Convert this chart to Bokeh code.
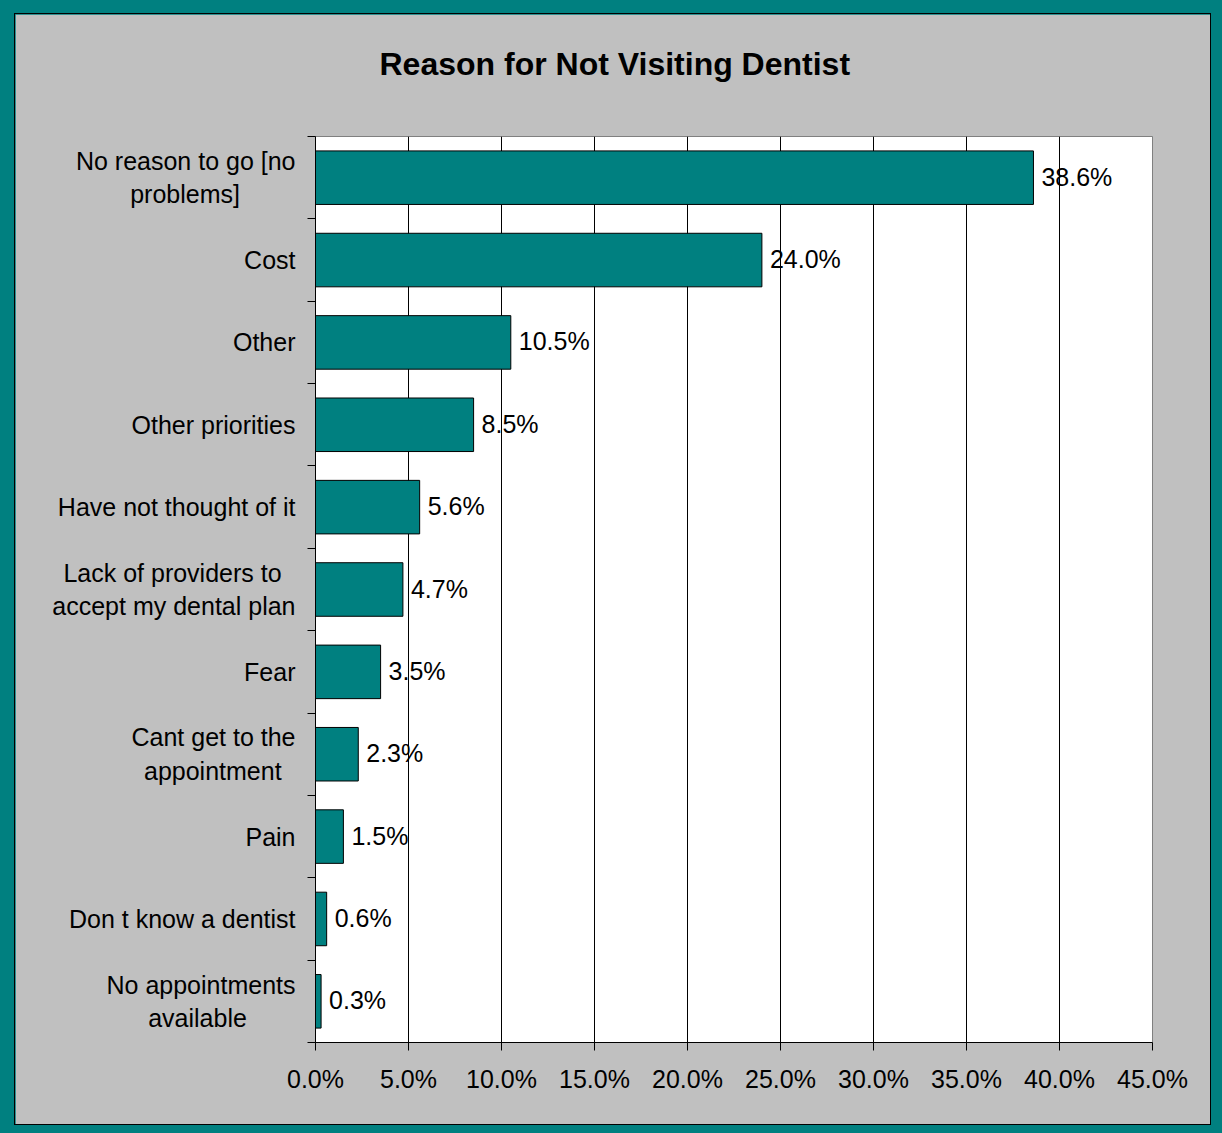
from bokeh.plotting import figure
from bokeh.models import (Range1d, LinearAxis, FixedTicker, Title,
                          PrintfTickFormatter, ColumnDataSource, LabelSet)
from bokeh.core.properties import value
from bokeh.layouts import column
from bokeh.embed import file_html
from bokeh.resources import INLINE

categories = [
    "No reason to go [no\nproblems]",
    "Cost",
    "Other",
    "Other priorities",
    "Have not thought of it",
    "Lack of providers to\naccept my dental plan",
    "Fear",
    "Cant get to the\nappointment",
    "Pain",
    "Don t know a dentist",
    "No appointments\navailable",
]
values = [38.6, 24.0, 10.5, 8.5, 5.6, 4.7, 3.5, 2.3, 1.5, 0.6, 0.3]
value_labels = ["38.6%", "24.0%", "10.5%", "8.5%", "5.6%", "4.7%", "3.5%", "2.3%", "1.5%", "0.6%", "0.3%"]
x_ticks = [0, 5, 10, 15, 20, 25, 30, 35, 40, 45]
title_text = "Reason for Not Visiting Dentist"

FONT = "Liberation Sans"
TEAL = "#008080"
NBSP = "\u00a0"

# styling only: trailing no-break spaces per label line, so that the lines of a
# wrapped (right-aligned) label appear centred within their block, as in Excel
line_pad = {0: [0, 8], 5: [2, 0], 7: [0, 2], 10: [0, 7]}


def display_label(i, c):
    pads = line_pad.get(i)
    if not pads:
        return c
    return "\n".join(line + NBSP * k for line, k in zip(c.split("\n"), pads))


n = len(categories)
slots = [n - i - 0.5 for i in range(n)]  # category slot centres, first at top
src = ColumnDataSource(dict(cat=categories, pos=slots, val=values, lab=value_labels))

p = figure(width=1195, height=1110,
           y_range=Range1d(0, n),
           x_range=Range1d(0, 45),
           y_axis_location=None, title_location=None,
           output_backend="svg", toolbar_location=None,
           min_border_left=300, min_border_right=58,
           min_border_top=122, min_border_bottom=82,
           border_fill_color="#c0c0c0", background_fill_color="white",
           outline_line_color="#808080")
p.styles = {"box-shadow": "0 0 0 1px #000000"}

# title: a blank spacer next to the frame, then the real title above it
spacer = Title(text=NBSP, text_font_size="1px", standoff=52)
p.add_layout(spacer, "above")
title = Title(text=title_text, text_font=FONT, text_font_size="32px",
              text_font_style="bold", text_color="black",
              align="left", offset=64, standoff=0)
p.add_layout(title, "above")

# x axis
xa = p.xaxis[0]
xa.ticker = FixedTicker(ticks=x_ticks)
xa.formatter = PrintfTickFormatter(format="%.1f%%")
xa.major_tick_out = 8
xa.major_tick_in = 0
xa.minor_tick_line_color = None
xa.axis_line_color = "black"
xa.major_tick_line_color = "black"
xa.major_label_text_font = FONT
xa.major_label_text_font_size = "25px"
xa.major_label_text_color = "black"
xa.major_label_standoff = 14

p.xgrid.ticker = FixedTicker(ticks=x_ticks)
p.xgrid.grid_line_color = "black"
p.xgrid.grid_line_width = 1
for g in p.ygrid:
    g.grid_line_color = None

# left: tick marks at category boundaries
bounds = list(range(n + 1))
tick_axis = LinearAxis(ticker=FixedTicker(ticks=bounds),
                       major_label_overrides={b: "" for b in bounds},
                       major_tick_out=8, major_tick_in=0,
                       minor_tick_line_color=None,
                       axis_line_color="black", major_tick_line_color="black",
                       major_label_standoff=0)
p.add_layout(tick_axis, "left")

# left: category names at slot centres
cat_axis = LinearAxis(ticker=FixedTicker(ticks=slots),
                      major_label_overrides={s: display_label(i, c)
                                             for i, (s, c) in enumerate(zip(slots, categories))},
                      axis_line_color=None, major_tick_line_color=None,
                      minor_tick_line_color=None,
                      major_label_text_font=FONT,
                      major_label_text_font_size="25px",
                      major_label_text_color="black",
                      major_label_standoff=6)
p.add_layout(cat_axis, "left")

p.hbar(y="pos", right="val", left=0, height=0.65, source=src,
       fill_color=TEAL, line_color="black", line_width=1)

labels = LabelSet(x="val", y="pos", text="lab", source=src, x_offset=8, y_offset=1,
                  text_baseline="middle", text_align="left",
                  text_font=value(FONT), text_font_size="25px", text_color="black")
p.add_layout(labels)

layout = column(p, styles={"background-color": TEAL, "padding": "14px 12px 9px 15px"})

open("out.html", "w").write(file_html(layout, INLINE))
